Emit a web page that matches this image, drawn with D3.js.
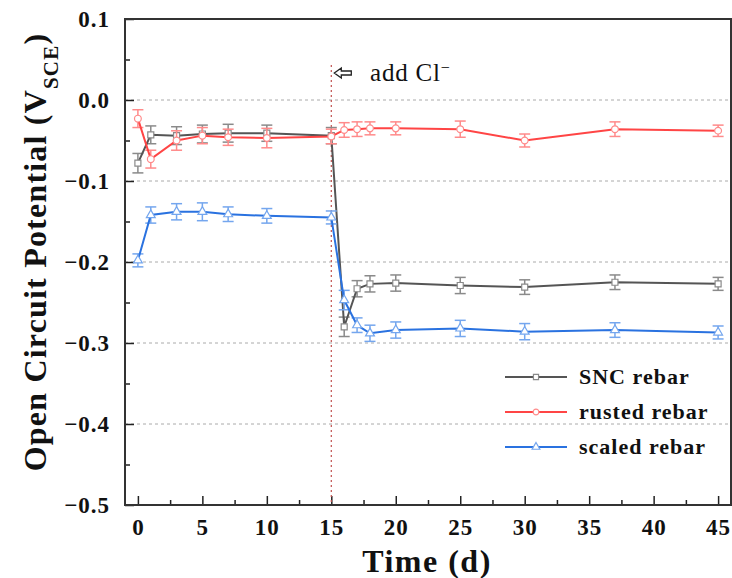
<!DOCTYPE html>
<html>
<head>
<meta charset="utf-8">
<script src="https://cdn.jsdelivr.net/npm/d3@7"></script>
<style>
  body { margin: 0; background: #fff; }
  text { font-family: "Liberation Serif", "Times New Roman", serif; }
</style>
</head>
<body>
<div id="container"></div>
<script>
// data
const days = [0, 1, 3, 5, 7, 10, 15, 16, 17, 18, 20, 25, 30, 37, 45];
const sncMean = [-0.078, -0.043, -0.044, -0.042, -0.041, -0.041, -0.044, -0.280, -0.233, -0.227, -0.226, -0.229, -0.231, -0.225, -0.227];
const sncErr = [0.012, 0.011, 0.011, 0.011, 0.011, 0.010, 0.010, 0.012, 0.010, 0.010, 0.010, 0.010, 0.009, 0.009, 0.008];
const rustedMean = [-0.023, -0.073, -0.050, -0.044, -0.046, -0.047, -0.045, -0.037, -0.036, -0.035, -0.035, -0.036, -0.050, -0.036, -0.038];
const rustedErr = [0.011, 0.011, 0.012, 0.010, 0.010, 0.012, 0.009, 0.009, 0.009, 0.008, 0.008, 0.010, 0.008, 0.009, 0.007];
const scaledMean = [-0.198, -0.142, -0.138, -0.138, -0.141, -0.143, -0.145, -0.247, -0.278, -0.288, -0.284, -0.282, -0.286, -0.284, -0.287];
const scaledErr = [0.008, 0.010, 0.010, 0.011, 0.009, 0.009, 0.008, 0.012, 0.009, 0.010, 0.010, 0.010, 0.010, 0.009, 0.008];
const xTicks = [0, 5, 10, 15, 20, 25, 30, 35, 40, 45];
const yTicks = [0.1, 0.0, -0.1, -0.2, -0.3, -0.4, -0.5];
const seriesNames = ["SNC rebar", "rusted rebar", "scaled rebar"];
const clDay = 15;

const W = 732, H = 578;
const pLeft = 125, pRight = 731, pTop = 19, pBottom = 505;

let viz = d3.select("#container")
  .append("svg")
    .attr("width", W)
    .attr("height", H);

let x = d3.scaleLinear().domain([-1, 46]).range([pLeft, pRight]);
let y = d3.scaleLinear().domain([-0.5, 0.1]).range([pBottom, pTop]);

// grid
viz.append("g")
  .selectAll("line")
  .data(yTicks.filter(d => d < 0.09 && d > -0.49))
  .join("line")
    .attr("x1", pLeft)
    .attr("x2", pRight)
    .attr("y1", d => y(d))
    .attr("y2", d => y(d))
    .attr("stroke", "#aaa")
    .attr("stroke-width", 1)
    .attr("stroke-dasharray", "3,3");

// axes (ticks inward)
let fmtY = d => (d < 0 ? "\u2212" : "") + Math.abs(d).toFixed(1);

let xAxis = viz.append("g")
  .attr("transform", `translate(0,${pBottom})`)
  .call(d3.axisBottom(x).tickValues(xTicks).tickSize(-9).tickPadding(12).tickFormat(d3.format("d")));
let xMinor = viz.append("g")
  .attr("transform", `translate(0,${pBottom})`)
  .call(d3.axisBottom(x).tickValues(d3.range(0, 46, 2.5).filter(d => d % 5 !== 0)).tickSize(-5).tickFormat(""));

let yAxis = viz.append("g")
  .attr("transform", `translate(${pLeft},0)`)
  .call(d3.axisLeft(y).tickValues(yTicks).tickSize(-9).tickPadding(15).tickFormat(fmtY));
let yMinor = viz.append("g")
  .attr("transform", `translate(${pLeft},0)`)
  .call(d3.axisLeft(y).tickValues([0.05, -0.05, -0.15, -0.25, -0.35, -0.45]).tickSize(-5).tickFormat(""));

[xAxis, xMinor, yAxis, yMinor].forEach(g => {
  g.select(".domain").remove();
  g.selectAll(".tick line").attr("stroke", "#222").attr("stroke-width", 1.5);
  g.selectAll("text")
    .attr("font-family", "Liberation Serif")
    .attr("font-weight", "bold")
    .attr("font-size", 23)
    .attr("letter-spacing", 1)
    .attr("fill", "#111");
});
xAxis.selectAll("text").attr("dy", "0.8em");

// frame
viz.append("rect")
  .attr("x", pLeft)
  .attr("y", pTop)
  .attr("width", pRight - pLeft)
  .attr("height", pBottom - pTop)
  .attr("fill", "none")
  .attr("stroke", "#333")
  .attr("stroke-width", 2);

// Cl- line
viz.append("line")
  .attr("x1", x(clDay))
  .attr("x2", x(clDay))
  .attr("y1", 65)
  .attr("y2", pBottom)
  .attr("stroke", "#c0504d")
  .attr("stroke-width", 1.2)
  .attr("stroke-dasharray", "2,3");

// hollow arrow
let ax = x(clDay) + 3, ay = 73;
viz.append("path")
  .attr("d", `M${ax},${ay} l7,-5 v3 h10 v4 h-10 v3 z`)
  .attr("fill", "#fff")
  .attr("stroke", "#222")
  .attr("stroke-width", 1.3);

let clText = viz.append("text")
  .attr("x", 370)
  .attr("y", 81)
  .attr("font-size", 25)
  .attr("letter-spacing", 0.8)
  .attr("fill", "#111")
  .text("add Cl");
clText.append("tspan")
  .attr("baseline-shift", "super")
  .attr("font-size", 16)
  .text("\u2212");

// series
let series = [
  {name: seriesNames[0], mean: sncMean, err: sncErr, line: "#555555", bar: "#8a8a8a", marker: "square"},
  {name: seriesNames[1], mean: rustedMean, err: rustedErr, line: "#ff4545", bar: "#ff8a8a", marker: "circle"},
  {name: seriesNames[2], mean: scaledMean, err: scaledErr, line: "#2a72e0", bar: "#74a6ee", marker: "triangle"}
];

let symbolOf = m => m === "square" ? d3.symbolSquare : (m === "circle" ? d3.symbolCircle : d3.symbolTriangle);
let lineGen = d3.line().x(d => x(d.day)).y(d => y(d.v));

series.forEach(s => {
  let pts = days.map((d, i) => ({day: d, v: s.mean[i], e: s.err[i]}));
  let g = viz.append("g");

  // error bars
  let eb = g.selectAll(".eb").data(pts).join("g");
  eb.append("line")
    .attr("x1", d => x(d.day)).attr("x2", d => x(d.day))
    .attr("y1", d => y(d.v + d.e)).attr("y2", d => y(d.v - d.e))
    .attr("stroke", s.bar).attr("stroke-width", 1.5);
  [1, -1].forEach(sg => {
    eb.append("line")
      .attr("x1", d => x(d.day) - 5.5).attr("x2", d => x(d.day) + 5.5)
      .attr("y1", d => y(d.v + sg * d.e)).attr("y2", d => y(d.v + sg * d.e))
      .attr("stroke", s.bar).attr("stroke-width", 1.5);
  });

  g.append("path")
    .datum(pts)
    .attr("d", lineGen)
    .attr("fill", "none")
    .attr("stroke", s.line)
    .attr("stroke-width", 2);

  g.selectAll(".mk").data(pts).join("path")
    .attr("transform", d => `translate(${x(d.day)},${y(d.v)})`)
    .attr("d", d3.symbol().type(symbolOf(s.marker)).size(s.marker === "triangle" ? 34 : 36))
    .attr("fill", "#fff")
    .attr("stroke", s.bar)
    .attr("stroke-width", 1.2);
});

// legend
let legY = d3.scalePoint().domain(seriesNames).range([377, 447]);
let leg = viz.append("g")
  .selectAll("g")
  .data(series)
  .join("g")
    .attr("transform", d => `translate(0,${legY(d.name)})`);
leg.append("line")
  .attr("x1", 505).attr("x2", 567)
  .attr("stroke", d => d.line)
  .attr("stroke-width", 2);
leg.append("path")
  .attr("transform", "translate(536,0)")
  .attr("d", d => d3.symbol().type(symbolOf(d.marker)).size(26)())
  .attr("fill", "#fff")
  .attr("stroke", d => d.bar)
  .attr("stroke-width", 1.2);
leg.append("text")
  .attr("x", 579)
  .attr("y", 7)
  .attr("font-size", 22)
  .attr("font-weight", "bold")
  .attr("letter-spacing", 1)
  .attr("fill", "#111")
  .text(d => d.name);

// axis titles
viz.append("text")
  .attr("x", 427)
  .attr("y", 572)
  .attr("text-anchor", "middle")
  .attr("font-size", 32)
  .attr("font-weight", "bold")
  .attr("letter-spacing", 1.5)
  .attr("fill", "#111")
  .text("Time (d)");

let yt = viz.append("text")
  .attr("transform", "translate(46,252) rotate(-90)")
  .attr("text-anchor", "middle")
  .attr("font-size", 32)
  .attr("font-weight", "bold")
  .attr("letter-spacing", 1.2)
  .attr("fill", "#111")
  .text("Open Circuit Potential (V");
yt.append("tspan")
  .attr("baseline-shift", "sub")
  .attr("font-size", 21)
  .text("SCE");
yt.append("tspan").text(")");
</script>
</body>
</html>
